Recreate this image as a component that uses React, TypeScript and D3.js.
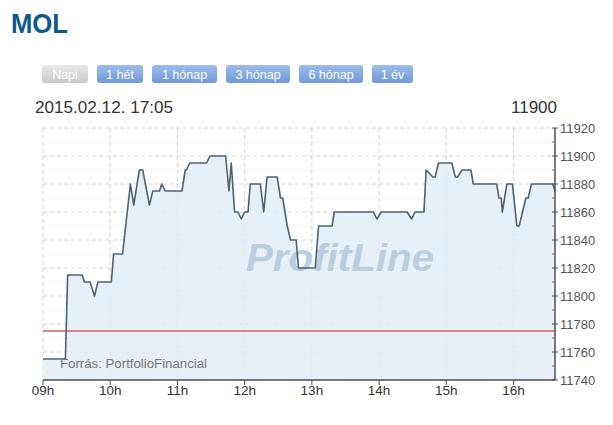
import React from 'react';
import * as d3 from 'd3';

// MOL intraday price, 2015.02.12.
const times = [
  '09:00', '09:20', '09:22', '09:35', '09:37', '09:42', '09:46', '09:49', '10:01', '10:03',
  '10:11', '10:18', '10:21', '10:26', '10:29', '10:35', '10:38', '10:44', '10:46', '10:49',
  '11:04', '11:07', '11:08', '11:11', '11:26', '11:29', '11:43', '11:46', '11:48', '11:51',
  '11:54', '11:57', '12:00', '12:03', '12:05', '12:14', '12:17', '12:20', '12:29', '12:32',
  '12:34', '12:38', '12:41', '12:46', '12:48', '13:03', '13:06', '13:18', '13:20', '13:55',
  '13:58', '14:02', '14:25', '14:29', '14:32', '14:40', '14:42', '14:48', '14:50', '14:53',
  '15:05', '15:08', '15:10', '15:14', '15:22', '15:24', '15:45', '15:47', '15:49', '15:50',
  '15:54', '15:59', '16:03', '16:05', '16:11', '16:13', '16:16', '16:35', '16:37',
];
const prices = [
  11755, 11755, 11815, 11815, 11810, 11810, 11800, 11810, 11810, 11830,
  11830, 11880, 11865, 11890, 11890, 11865, 11875, 11875, 11880, 11875,
  11875, 11890, 11890, 11895, 11895, 11900, 11900, 11875, 11895, 11860,
  11860, 11855, 11860, 11860, 11880, 11880, 11860, 11885, 11885, 11870,
  11870, 11850, 11840, 11840, 11820, 11820, 11850, 11850, 11860, 11860,
  11855, 11860, 11860, 11855, 11860, 11860, 11890, 11885, 11885, 11895,
  11895, 11885, 11885, 11890, 11890, 11880, 11880, 11870, 11870, 11860,
  11880, 11880, 11850, 11850, 11870, 11870, 11880, 11880, 11875,
];
const prevClose = 11775;
const yTicks = [11740, 11760, 11780, 11800, 11820, 11840, 11860, 11880, 11900, 11920];
const xTickLabels = ['09h', '10h', '11h', '12h', '13h', '14h', '15h', '16h'];
const buttons = ['Napi', '1 hét', '1 hónap', '3 hónap', '6 hónap', '1 év'];
const buttonWidths = [46, 46, 65, 64, 64, 41];

const W = 613;
const H = 425;
const margin = { top: 128, right: 58, bottom: 45, left: 43 };
const FONT = '"Liberation Sans", Arial, sans-serif';

const parse = d3.timeParse('%H:%M');

export default function App() {
  const data = times.map((t, i) => ({ t: parse(t) as Date, v: prices[i] }));

  const x = d3
    .scaleTime()
    .domain(d3.extent(data, (d) => d.t) as [Date, Date])
    .range([margin.left, W - margin.right]);
  const y = d3.scaleLinear().domain([11740, 11920]).range([H - margin.bottom, margin.top]);

  const line = d3.line<{ t: Date; v: number }>().x((d) => x(d.t)).y((d) => y(d.v));
  const area = d3
    .area<{ t: Date; v: number }>()
    .x((d) => x(d.t))
    .y0(y(11740))
    .y1((d) => y(d.v));

  const hourTicks = xTickLabels.map((l) => parse(l.replace('h', ':00')) as Date);
  const minorY = d3.range(11750, 11920, 20);

  const x0 = margin.left;
  const x1 = W - margin.right;
  const yBottom = y(11740);
  const yTop = y(11920);

  // button positions
  let bx = 42;
  const btnPos = buttonWidths.map((w) => {
    const p = bx;
    bx += w + 9;
    return p;
  });

  return (
    <div style={{ position: 'absolute', left: 0, top: 0 }}>
      <svg width={W} height={H} style={{ display: 'block', fontFamily: FONT }}>
        <defs>
          <linearGradient id="btnBlue" x1="0" y1="0" x2="0" y2="1">
            <stop offset="0" stopColor="#9dbcec" />
            <stop offset="1" stopColor="#6f99da" />
          </linearGradient>
          <linearGradient id="btnGray" x1="0" y1="0" x2="0" y2="1">
            <stop offset="0" stopColor="#e8e8e8" />
            <stop offset="1" stopColor="#c9c9c9" />
          </linearGradient>
        </defs>
        <rect width={W} height={H} fill="#fff" />

        <text x={11} y={33} fontSize={27} fontWeight="bold" fill="#0d5a8a" textLength={57} lengthAdjust="spacingAndGlyphs">
          MOL
        </text>

        {buttons.map((b, i) => (
          <g key={b}>
            <rect
              x={btnPos[i]}
              y={65}
              width={buttonWidths[i]}
              height={18}
              rx={3}
              fill={i === 0 ? 'url(#btnGray)' : 'url(#btnBlue)'}
            />
            <text x={btnPos[i] + buttonWidths[i] / 2} y={78.5} textAnchor="middle" fontSize={12.5} fill="#fff">
              {b}
            </text>
          </g>
        ))}

        <text x={35} y={113} fontSize={17} fill="#333" textLength={138} lengthAdjust="spacingAndGlyphs">
          2015.02.12. 17:05
        </text>
        <text x={557} y={113} fontSize={17} fill="#333" textAnchor="end">
          11900
        </text>

        {/* grid */}
        {yTicks.map((v) => (
          <line key={'g' + v} x1={x0} x2={x1} y1={y(v)} y2={y(v)} stroke="#d6d6d6" strokeDasharray="4,3" />
        ))}
        {minorY.map((v) => (
          <line key={'m' + v} x1={x0} x2={x1} y1={y(v)} y2={y(v)} stroke="#e2e2e2" strokeDasharray="1,2" />
        ))}
        {hourTicks.map((t, i) => (
          <line key={'v' + i} x1={x(t)} x2={x(t)} y1={yTop} y2={yBottom} stroke="#d6d6d6" strokeDasharray="4,3" />
        ))}

        <path d={area(data) as string} fill="#e4edf6" fillOpacity={0.85} />

        <text
          x={340}
          y={271}
          textAnchor="middle"
          fontSize={38}
          fontWeight="bold"
          fontStyle="italic"
          fill="#b9cfdf"
          textLength={188}
          lengthAdjust="spacingAndGlyphs"
        >
          ProfitLine
        </text>

        <line x1={x0} x2={x1} y1={y(prevClose)} y2={y(prevClose)} stroke="#d06060" strokeWidth={1.5} />

        <path d={line(data) as string} fill="none" stroke="#4b6374" strokeWidth={1.6} strokeLinejoin="round" />

        <text x={60} y={368} fontSize={12.5} fill="#777" textLength={147} lengthAdjust="spacingAndGlyphs">
          Forrás: PortfolioFinancial
        </text>

        {/* bottom axis */}
        <line x1={x0} x2={x1} y1={yBottom} y2={yBottom} stroke="#4a4f55" strokeWidth={1.5} />
        {hourTicks.map((t, i) => (
          <g key={'xt' + i}>
            <line x1={x(t)} x2={x(t)} y1={yBottom} y2={yBottom + 5} stroke="#4a4f55" />
            <text x={x(t)} y={395} textAnchor="middle" fontSize={13.5} fill="#333">
              {xTickLabels[i]}
            </text>
          </g>
        ))}

        {/* right axis */}
        <line x1={x1} x2={x1} y1={yTop} y2={yBottom} stroke="#4a4f55" strokeWidth={1.5} />
        {minorY.map((v) => (
          <line key={'rm' + v} x1={x1 - 3} x2={x1} y1={y(v)} y2={y(v)} stroke="#d05050" />
        ))}
        {yTicks.map((v) => (
          <g key={'yt' + v}>
            <line x1={x1 - 3} x2={x1 + 3} y1={y(v)} y2={y(v)} stroke="#4a4f55" />
            <text x={560} y={y(v) + 5} fontSize={13} fill="#555">
              {v}
            </text>
          </g>
        ))}
      </svg>
    </div>
  );
}
